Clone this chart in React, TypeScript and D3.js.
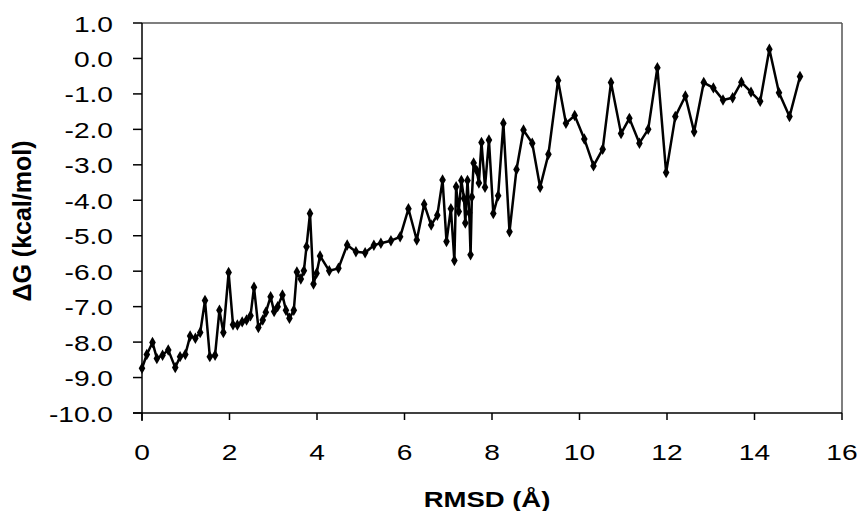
import React from 'react';
import { scaleLinear, line, symbol, symbolDiamond } from 'd3';

// RMSD (Å) and binding free energy (kcal/mol)
const rmsd = [
  0.00, 0.11, 0.24, 0.34, 0.47, 0.60, 0.76, 0.87, 0.99, 1.10,
  1.22, 1.33, 1.44, 1.55, 1.67, 1.77, 1.86, 1.98, 2.08, 2.18,
  2.29, 2.39, 2.48, 2.56, 2.66, 2.76, 2.83, 2.94, 3.02, 3.10,
  3.21, 3.29, 3.37, 3.47, 3.54, 3.63, 3.70, 3.76, 3.84, 3.92,
  3.99, 4.07, 4.28, 4.49, 4.69, 4.89, 5.10, 5.30, 5.46, 5.69,
  5.90, 6.09, 6.28, 6.45, 6.61, 6.75, 6.87, 6.96, 7.06, 7.14,
  7.18, 7.24, 7.30, 7.36, 7.39, 7.44, 7.48, 7.51, 7.54, 7.58,
  7.65, 7.70, 7.76, 7.84, 7.93, 8.03, 8.14, 8.26, 8.40, 8.56,
  8.72, 8.92, 9.10, 9.29, 9.51, 9.69, 9.89, 10.11, 10.32, 10.53,
  10.72, 10.95, 11.14, 11.37, 11.57, 11.78, 11.98, 12.19, 12.42, 12.62,
  12.84, 13.06, 13.28, 13.50, 13.70, 13.92, 14.13, 14.34, 14.56, 14.80,
  15.04,
];
const deltaG = [
  -8.74, -8.35, -8.01, -8.46, -8.37, -8.22, -8.72, -8.41, -8.35, -7.83,
  -7.89, -7.73, -6.83, -8.41, -8.37, -7.10, -7.73, -6.04, -7.51, -7.52,
  -7.43, -7.38, -7.26, -6.45, -7.59, -7.38, -7.16, -6.72, -7.14, -7.00,
  -6.67, -7.10, -7.33, -7.10, -6.02, -6.22, -5.99, -5.31, -4.37, -6.36,
  -6.06, -5.57, -5.99, -5.92, -5.26, -5.45, -5.48, -5.27, -5.21, -5.14,
  -5.03, -4.24, -5.12, -4.11, -4.70, -4.42, -3.43, -5.16, -4.24, -5.70,
  -3.62, -4.32, -3.44, -3.95, -4.64, -3.44, -4.35, -5.54, -3.91, -2.95,
  -3.16, -3.51, -2.37, -3.63, -2.30, -4.37, -3.87, -1.83, -4.89, -3.13,
  -2.02, -2.39, -3.63, -2.70, -0.62, -1.83, -1.61, -2.27, -3.03, -2.56,
  -0.68, -2.12, -1.69, -2.39, -2.00, -0.26, -3.22, -1.64, -1.06, -2.07,
  -0.68, -0.83, -1.17, -1.11, -0.67, -0.95, -1.21, 0.26, -0.97, -1.64,
  -0.51,
];

const xTicks = [0, 2, 4, 6, 8, 10, 12, 14, 16];
const yTicks = [1, 0, -1, -2, -3, -4, -5, -6, -7, -8, -9, -10];

const W = 857;
const H = 511;
const plot = { left: 142, right: 842, top: 23, bottom: 413 };
const font = '"Liberation Sans", Arial, sans-serif';
const stretch = 1.25;

export default function App() {
  const x = scaleLinear().domain([0, 16]).range([plot.left, plot.right]);
  const y = scaleLinear().domain([-10, 1]).range([plot.bottom, plot.top]);

  const pts = rmsd.map((r, i) => [r, deltaG[i]] as [number, number]);
  const path = line<[number, number]>()
    .x((d) => x(d[0]))
    .y((d) => y(d[1]))(pts);
  const diamond = symbol().type(symbolDiamond).size(38)();

  return (
    <div style={{ position: 'absolute', left: 0, top: 0 }}>
      <svg width={W} height={H} style={{ display: 'block', background: '#fff' }}>
        {/* plot frame */}
        <line x1={plot.left} x2={plot.right} y1={plot.top} y2={plot.top} stroke="#555" strokeWidth={1.5} />
        <line x1={plot.right} x2={plot.right} y1={plot.top} y2={plot.bottom} stroke="#555" strokeWidth={1.5} />
        {/* axes */}
        <line x1={plot.left} x2={plot.left} y1={plot.top} y2={plot.bottom + 8} stroke="#000" strokeWidth={1.5} />
        <line x1={plot.left - 9} x2={plot.right} y1={plot.bottom} y2={plot.bottom} stroke="#000" strokeWidth={1.5} />

        {yTicks.map((t) => (
          <g key={t}>
            <line x1={plot.left - 9} x2={plot.left} y1={y(t)} y2={y(t)} stroke="#000" strokeWidth={1.5} />
            <g transform={`translate(113,${y(t) + 8.5}) scale(${stretch},1)`}>
              <text textAnchor="end" fontFamily={font} fontSize={22.5} fill="#000">
                {t.toFixed(1)}
              </text>
            </g>
          </g>
        ))}

        {xTicks.map((t) => (
          <g key={t}>
            <line x1={x(t)} x2={x(t)} y1={plot.bottom} y2={plot.bottom + 7} stroke="#000" strokeWidth={1.5} />
            <g transform={`translate(${x(t)},460) scale(${stretch},1)`}>
              <text textAnchor="middle" fontFamily={font} fontSize={22.5} fill="#000">
                {t}
              </text>
            </g>
          </g>
        ))}

        <path d={path ?? ''} fill="none" stroke="#000" strokeWidth={2.5} strokeLinejoin="round" />
        {pts.map((d, i) => (
          <path key={i} d={diamond ?? ''} transform={`translate(${x(d[0])},${y(d[1])})`} fill="#000" />
        ))}

        <g transform={`translate(487,507) scale(${stretch},1)`}>
          <text textAnchor="middle" fontFamily={font} fontWeight="bold" fontSize={22} fill="#000">
            RMSD (Å)
          </text>
        </g>
        <g transform={`translate(31,221) rotate(-90)`}>
          <text textAnchor="middle" fontFamily={font} fontWeight="bold" fontSize={25} fill="#000">
            ΔG (kcal/mol)
          </text>
        </g>
      </svg>
    </div>
  );
}
